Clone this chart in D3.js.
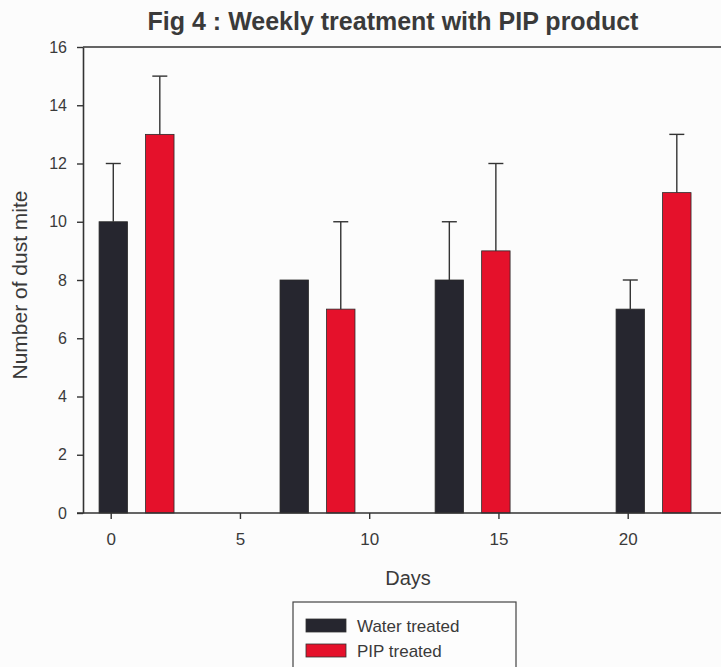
<!DOCTYPE html>
<html>
<head>
<meta charset="utf-8">
<script src="https://cdn.jsdelivr.net/npm/d3@7"></script>
<style>
  html, body { margin: 0; padding: 0; background: #fcfcfc; }
  svg { display: block; }
  text { font-family: "Liberation Sans", Arial, sans-serif; fill: #3a3a3a; }
</style>
</head>
<body>
<svg id="chart" width="721" height="667"></svg>
<script>
// ---- data ----
const groupDays = [1, 8, 14, 21];            // centre day of each pair of bars
const seriesNames = ["Water treated", "PIP treated"];
const waterValues = [10, 8, 8, 7];
const waterErrors = [2, 0, 2, 1];
const pipValues = [13, 7, 9, 11];
const pipErrors = [2, 3, 3, 2];
const xTicks = [0, 5, 10, 15, 20];
const yTicks = [0, 2, 4, 6, 8, 10, 12, 14, 16];
const titleText = "Fig 4 : Weekly treatment with PIP product";
const xLabel = "Days";
const yLabel = "Number of dust mite";

// ---- styles ----
const colors = ["#26262f", "#e5112b"];
const ink = "#333333";

const svg = d3.select("#chart");
const plotLeft = 83, plotRight = 721, plotTop = 47, plotBottom = 513;

const x = d3.scaleLinear().domain([0, 20]).range([110.7, 627.7]);
const y = d3.scaleLinear().domain([0, 16]).range([plotBottom, plotTop]);

const barOffset = 0.9;   // days from group centre
const barWidthDays = 1.1;
const barW = x(barWidthDays) - x(0);

const series = [
  { name: seriesNames[0], values: waterValues, errors: waterErrors, offset: -barOffset, color: colors[0] },
  { name: seriesNames[1], values: pipValues, errors: pipErrors, offset: barOffset, color: colors[1] }
];

// top frame line
svg.append("line")
  .attr("x1", plotLeft).attr("x2", plotRight)
  .attr("y1", plotTop).attr("y2", plotTop)
  .attr("stroke", ink).attr("stroke-width", 1.6);

// bars
series.forEach(s => {
  const g = svg.append("g");
  g.selectAll("rect").data(s.values).join("rect")
    .attr("x", (v, i) => x(groupDays[i] + s.offset) - barW / 2)
    .attr("y", v => y(v))
    .attr("width", barW)
    .attr("height", v => y(0) - y(v))
    .attr("fill", s.color)
    .attr("stroke", "#2a2a2a")
    .attr("stroke-width", 0.8);
  // error bars (upper only)
  const eb = g.selectAll("g.err").data(s.values.map((v, i) => ({ v, e: s.errors[i], d: groupDays[i] + s.offset })).filter(o => o.e > 0))
    .join("g").attr("class", "err");
  eb.append("line")
    .attr("x1", o => x(o.d)).attr("x2", o => x(o.d))
    .attr("y1", o => y(o.v)).attr("y2", o => y(o.v + o.e))
    .attr("stroke", ink).attr("stroke-width", 1.4);
  eb.append("line")
    .attr("x1", o => x(o.d) - 7.5).attr("x2", o => x(o.d) + 7.5)
    .attr("y1", o => y(o.v + o.e)).attr("y2", o => y(o.v + o.e))
    .attr("stroke", ink).attr("stroke-width", 1.4);
});

// y axis
const yAxis = svg.append("g")
  .attr("transform", `translate(${plotLeft},0)`)
  .call(d3.axisLeft(y).tickValues(yTicks).tickSize(6).tickPadding(10).tickSizeOuter(0));
yAxis.select(".domain").attr("stroke", ink).attr("stroke-width", 1.6);
yAxis.selectAll(".tick line").attr("stroke", ink).attr("stroke-width", 1.4);
yAxis.selectAll(".tick text").style("font-size", "16px").attr("fill", "#3a3a3a").attr("font-family", null);

// x axis
const xAxis = svg.append("g")
  .attr("transform", `translate(0,${plotBottom})`)
  .call(d3.axisBottom(x).tickValues(xTicks).tickSize(6).tickPadding(14).tickSizeOuter(0));
xAxis.select(".domain").remove();
xAxis.append("line")
  .attr("x1", plotLeft - 6).attr("x2", plotRight)
  .attr("stroke", ink).attr("stroke-width", 1.6);
xAxis.selectAll(".tick line").attr("stroke", ink).attr("stroke-width", 1.4);
xAxis.selectAll(".tick text").style("font-size", "17px").attr("fill", "#3a3a3a").attr("font-family", null);

// title
svg.append("text")
  .attr("x", 393).attr("y", 30)
  .attr("text-anchor", "middle")
  .style("font-size", "25px").style("font-weight", "bold")
  .text(titleText);

// x label
svg.append("text")
  .attr("x", 408).attr("y", 585)
  .attr("text-anchor", "middle")
  .style("font-size", "20px")
  .text(xLabel);

// y label
svg.append("text")
  .attr("transform", `translate(27,${285}) rotate(-90)`)
  .attr("text-anchor", "middle")
  .style("font-size", "21px")
  .text(yLabel);

// legend
const legend = svg.append("g");
legend.append("rect")
  .attr("x", 293).attr("y", 602).attr("width", 223).attr("height", 90)
  .attr("fill", "#fdfdfd").attr("stroke", "#444").attr("stroke-width", 1.2);
const items = legend.selectAll("g.item").data(series).join("g").attr("class", "item")
  .attr("transform", (s, i) => `translate(306,${619 + i * 25})`);
items.append("rect")
  .attr("width", 40).attr("height", 13)
  .attr("fill", s => s.color).attr("stroke", "#333").attr("stroke-width", 0.8);
items.append("text")
  .attr("x", 51).attr("y", 12.5)
  .style("font-size", "17px")
  .text(s => s.name);
</script>
</body>
</html>
